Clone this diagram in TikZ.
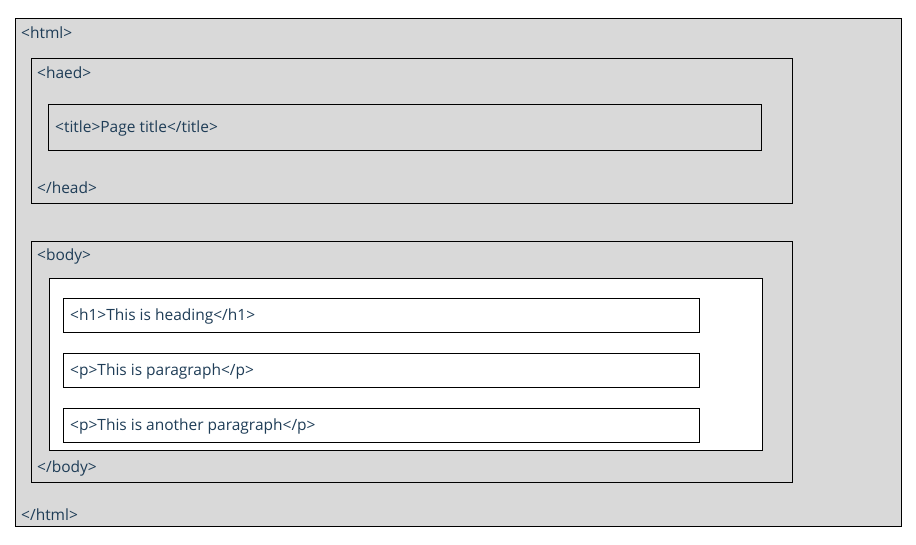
\documentclass[tikz,border=0pt]{standalone}
\usepackage{fontspec}
\setmainfont{Open Sans}
\definecolor{tagblue}{HTML}{1F3D57}
\definecolor{pagegray}{HTML}{D9D9D9}
\tikzset{
  box/.style={draw=black,line width=1pt,rectangle,inner sep=0pt,anchor=north west},
  tag/.style={text=tagblue,font=\fontsize{15.5}{18}\selectfont,inner sep=0pt,anchor=west}
}
\begin{document}
\begin{tikzpicture}[x=1pt,y=-1pt]
      \useasboundingbox (0,0) rectangle (916,544);

      % outer boxes
      \node[box,fill=pagegray,minimum width=886pt,minimum height=508pt] (html) at (15,18) {};
      \node[box,fill=pagegray,minimum width=761pt,minimum height=145pt] (head) at (31,58) {};
      \node[box,fill=pagegray,minimum width=713pt,minimum height=46pt] (title) at (48,104) {};
      \node[box,fill=pagegray,minimum width=761pt,minimum height=241pt] (body) at (31,241) {};
      \node[box,fill=white,minimum width=713pt,minimum height=172pt] (content) at (49,278) {};

      % body rows
      \node[box,fill=white,minimum width=636pt,minimum height=34pt] (h1) at (63,298) {};
      \node[box,fill=white,minimum width=636pt,minimum height=34pt] (p1) at (63,353) {};
      \node[box,fill=white,minimum width=636pt,minimum height=34pt] (p2) at (63,408) {};

      % tags
      \node[tag] (htmlopen) at (21,32.5) {<html>};
      \node[tag] (headopen) at (37,72.5) {<haed>};
      \node[tag] (titletext) at (55,128.5) {<title>Page title</title>};
      \node[tag] (headclose) at (37,187.5) {</head>};
      \node[tag] (bodyopen) at (37,256.5) {<body>};
      \node[tag] (h1text) at (70,316) {<h1>This is heading</h1>};
      \node[tag] (p1text) at (70,371) {<p>This is paragraph</p>};
      \node[tag] (p2text) at (70,426) {<p>This is another paragraph</p>};
      \node[tag] (bodyclose) at (37,468.5) {</body>};
      \node[tag] (htmlclose) at (21,514.5) {</html>};
    \end{tikzpicture}
\end{document}
